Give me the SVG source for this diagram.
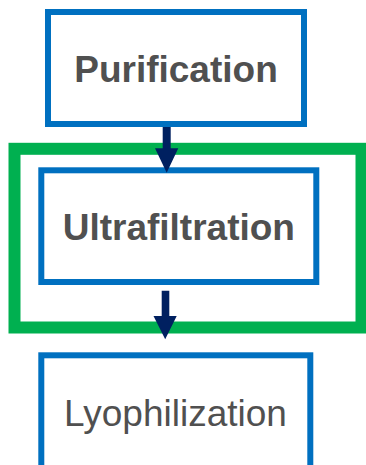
<svg xmlns="http://www.w3.org/2000/svg" width="366" height="465" viewBox="0 0 366 465">
  <style>
    .box { fill: #ffffff; stroke: #0070C0; stroke-width: 6; }
    .group { fill: none; stroke: #00B050; stroke-width: 12; }
    .label { font-family: "Liberation Sans", Arial, sans-serif; font-size: 37px; fill: #505050; text-anchor: middle; }
    .bold { font-weight: bold; }
    .arrow { fill: #002060; }
  </style>
  <rect width="366" height="465" fill="#ffffff"/>

  <!-- process frame around the ultrafiltration step -->
  <g id="frame">
    <rect class="group" x="14.5" y="148.8" width="347" height="178.7"/>
  </g>

  <g id="purification">
    <rect class="box" x="48" y="12" width="256" height="112"/>
    <text class="label bold" x="176" y="82">Purification</text>
  </g>

  <g id="ultrafiltration">
    <rect class="box" x="41.3" y="170.3" width="275" height="111.7"/>
    <text class="label bold" x="178.8" y="240">Ultrafiltration</text>
  </g>

  <g id="lyophilization">
    <rect class="box" x="41.3" y="355.3" width="269" height="114"/>
    <text class="label" x="175.5" y="426">Lyophilization</text>
  </g>

  <g id="connectors">
    <polygon class="arrow" points="162.7,127 170.7,127 170.7,148.3 178.3,148.3 166.7,172.7 155,148.3 162.7,148.3"/>
    <polygon class="arrow" points="161.7,290.7 169.3,290.7 169.3,316 176.7,316 165.2,339.3 153.5,316 161.7,316"/>
  </g>
</svg>
